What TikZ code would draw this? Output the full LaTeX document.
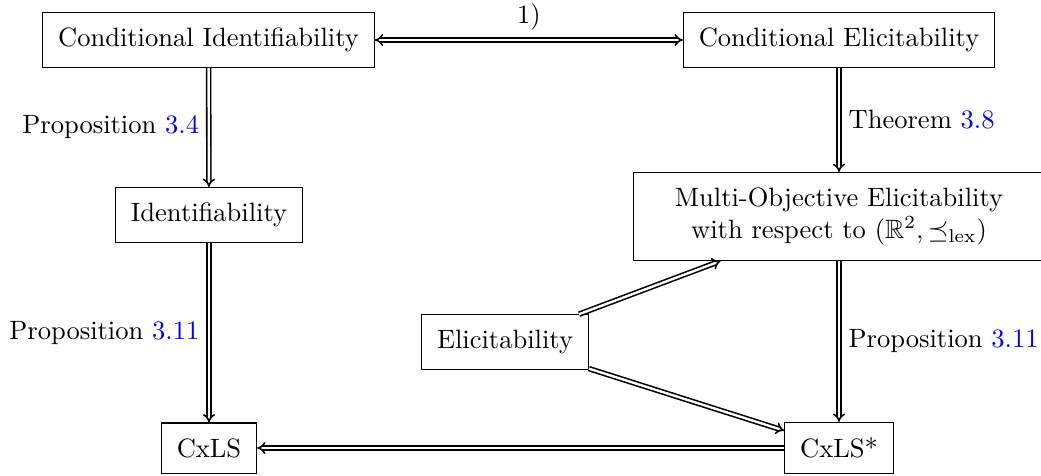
\documentclass[tikz,border=0pt]{standalone}
\usepackage{amssymb}
\usetikzlibrary{arrows.meta}
\begin{document}
\begin{tikzpicture}[x=0.377pt,y=-0.377pt,
  box/.style={draw, inner sep=5.8pt, line width=0.4pt},
  imp/.style={double, double distance=0.9pt, line width=0.6pt, -{Implies}}]
\useasboundingbox (0,0) rectangle (1041,475);
\node[box] (ci) at (208.5,40) {Conditional Identifiability};
\node[box] (ce) at (839,40) {Conditional Elicitability};
\node[box] (id) at (209,215) {Identifiability};
\node[box, minimum width=155.3pt, align=center] (mo) at (839,216.5) {Multi-Objective Elicitability\\with respect to $(\mathbb{R}^2,\preceq_{\mathrm{lex}})$};
\node[box] (el) at (505,342) {Elicitability};
\node[box] (cx) at (209,448) {CxLS};
\node[box] (cxs) at (839,448) {CxLS*};
\draw[imp, {Implies}-{Implies}] (ci) -- node[above] {1)} (ce);
\draw[imp] (ci) -- node[left] {Proposition \textcolor{blue}{3.4}} (id);
\draw[imp] (id) -- node[left] {Proposition \textcolor{blue}{3.11}} (cx);
\draw[imp] (ce) -- node[right] {Theorem \textcolor{blue}{3.8}} (mo);
\draw[imp] (mo) -- node[right] {Proposition \textcolor{blue}{3.11}} (cxs);
\draw[imp] (el) -- (mo);
\draw[imp] (el) -- (cxs);
\draw[imp] (cxs) -- (cx);
\end{tikzpicture}
\end{document}
